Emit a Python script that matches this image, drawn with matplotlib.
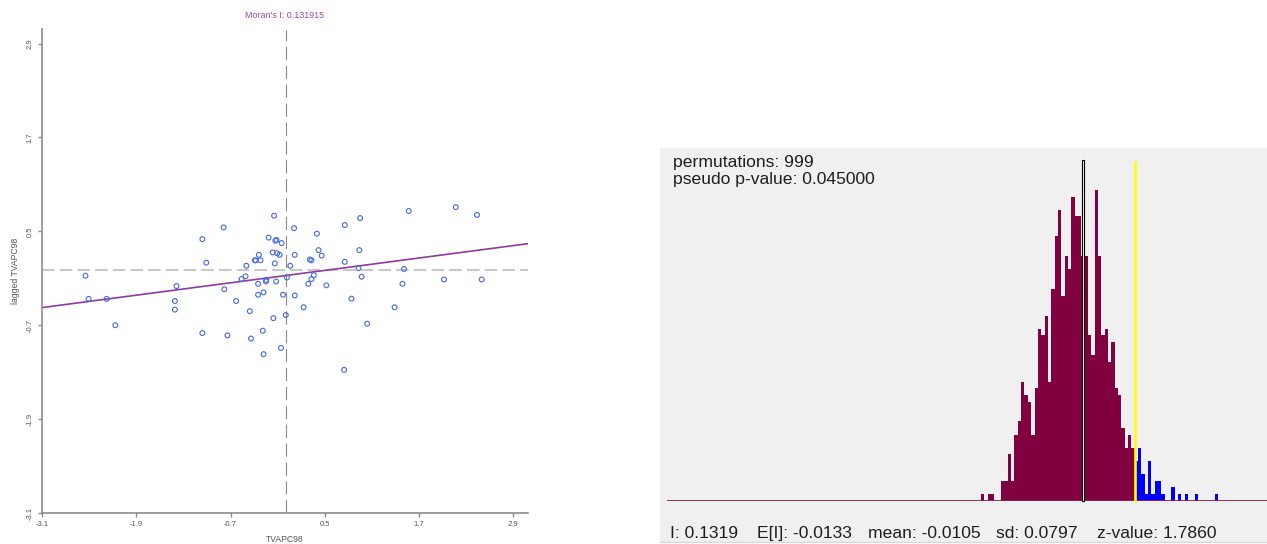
import numpy as np
import matplotlib
matplotlib.use("Agg")
import matplotlib.pyplot as plt
from matplotlib.patches import Rectangle
from matplotlib.lines import Line2D

# ---------------- data: Moran scatter plot ----------------
x_vals = [-2.55, -2.51, -2.28, -2.17, -1.39, -1.41, -1.41, -1.06, -1.01, -1.06,
          -0.79, -0.78, -0.74, -0.63, -0.56, -0.51, -0.50, -0.455, -0.44, -0.39,
          -0.38, -0.34, -0.32, -0.35, -0.35, -0.28, -0.25, -0.245, -0.29, -0.28,
          -0.216, -0.146, -0.164, -0.13, -0.115, -0.107, -0.076, -0.05, -0.137, -0.12,
          -0.155, -0.058, -0.032, 0.003, 0.017, 0.06, 0.109, 0.117, 0.117, 0.23,
          0.29, 0.31, 0.33, 0.33, 0.36, 0.40, 0.42, 0.46, 0.52, 0.755,
          0.755, 0.746, 0.84, 0.94, 0.95, 0.93, 0.97, 1.04, 1.39, 1.49,
          1.51, 1.57, 2.02, 2.17, 2.44, 2.50]
y_vals = [-0.067, -0.363, -0.363, -0.70, -0.20, -0.39, -0.50, 0.40, 0.10, -0.80,
          0.55, -0.24, -0.83, -0.39, -0.11, -0.075, 0.06, -0.52, -0.87, 0.13,
          0.13, 0.20, 0.13, -0.17, -0.31, -0.28, -0.14, -0.12, -0.77, -1.07,
          0.42, 0.70, 0.23, 0.38, 0.39, 0.22, 0.20, 0.35, 0.09, -0.14,
          -0.61, -0.99, -0.31, -0.57, -0.09, 0.06, 0.54, 0.20, -0.32, -0.47,
          -0.17, 0.14, 0.13, -0.11, -0.06, 0.47, 0.26, 0.19, -0.19, 0.58,
          0.11, -1.27, -0.36, 0.26, 0.67, 0.03, -0.08, -0.68, -0.47, -0.17,
          0.02, 0.76, -0.115, 0.81, 0.71, -0.115]
moran_i = 0.131915
fit_intercept = -0.065
tick_values = [-3.1, -1.9, -0.7, 0.5, 1.7, 2.9]
tick_labels = ["-3.1", "-1.9", "-0.7", "0.5", "1.7", "2.9"]
x_label = "TVAPC98"
y_label = "lagged TVAPC98"

# ---------------- data: permutation histogram ----------------
perm_counts = [1, 0, 1, 1, 0, 0, 3, 3, 7, 3,
               10, 12, 18, 16, 15, 10, 17, 26, 25, 28,
               18, 32, 40, 44, 31, 37, 35, 46, 43, 43,
               37, 37, 25, 22, 47, 37, 25, 26, 21, 24,
               17, 16, 11, 8, 10, 8, 6, 8, 4, 1,
               6, 1, 3, 3, 1, 0, 0, 2, 0, 1,
               0, 1, 0, 0, 1, 0, 0, 0, 0, 0, 1]
bin_start = -0.2861
bin_width = 0.00904
observed_I = 0.1319
expected_I = -0.0133
perm_mean = -0.0105
perm_sd = 0.0797
z_value = 1.7860
n_perm = 999
p_value = 0.045

# ---------------- figure ----------------
W, H = 1267, 544
fig = plt.figure(figsize=(W / 100, H / 100), dpi=100)
fig.patch.set_facecolor("white")
FONT = ["Liberation Sans", "DejaVu Sans"]


def fx(px):
    return px / W


def fy(py):
    return 1 - py / H


# gray panel behind the histogram
fig.patches.append(Rectangle((fx(660), fy(541.7)), 607 / W, 393.4 / H,
                             transform=fig.transFigure, facecolor="#f0f0f0",
                             edgecolor="none", zorder=-5))
fig.lines.append(Line2D([fx(660), fx(1267)], [fy(541.7), fy(541.7)],
                        transform=fig.transFigure, color="#d8d8d8", lw=1,
                        zorder=-4))

# ---------------- scatter ----------------
ax = fig.add_axes([fx(42.3), fy(513), 485.7 / W, 483.5 / H])
ax.set_xlim(-3.1, 3.09)
ax.set_ylim(-3.1, 3.08)
for s in ("top", "right"):
    ax.spines[s].set_visible(False)
for s in ("left", "bottom"):
    ax.spines[s].set_color("#8c8c8c")
    ax.spines[s].set_linewidth(1.2)
ax.set_xticks(tick_values)
ax.set_xticklabels(tick_labels, fontsize=5.5, color="#555555", family=FONT)
ax.set_yticks(tick_values)
ax.set_yticklabels(tick_labels, fontsize=5.5, color="#555555", family=FONT,
                   rotation=90, va="center")
ax.tick_params(direction="out", length=3, width=1, color="#8c8c8c", pad=3)

ax.axhline(0, color="#c8c8c8", lw=1.5, ls=(0, (6, 2.5)), zorder=1)
ax.axvline(0, color="#8a8a8a", lw=0.8, ls=(0, (12, 5)), zorder=1)
xs = np.array(ax.get_xlim())
ax.plot(xs, fit_intercept + moran_i * xs, color="#8e3aa0", lw=1.2, zorder=2)
ax.scatter(x_vals, y_vals, s=12, facecolors="none", edgecolors="#4468e0",
           linewidths=0.8, zorder=3)

fig.text(fx(285), fy(15), f"Moran's I: {moran_i:.6f}", fontsize=6.4,
         color="#9a46a8", ha="center", va="center", family=FONT)
fig.text(fx(285), fy(539), x_label, fontsize=6.2, color="#555555",
         ha="center", va="center", family=FONT)
fig.text(fx(16), fy(271), y_label, fontsize=6.2, color="#555555",
         ha="center", va="center", rotation=90, family=FONT)

# ---------------- histogram ----------------
hax = fig.add_axes([fx(667), fy(500.7), 600 / W, 53 * 6.61 / H])
hax.set_xlim(-1.138, 0.489)
hax.set_ylim(0, 53)
hax.axis("off")
hax.patch.set_alpha(0)

edges = bin_start + bin_width * np.arange(len(perm_counts))
centers = edges + bin_width / 2
colors = ["#0000ff" if c > observed_I else "#800040" for c in centers]
hax.bar(edges, perm_counts, width=bin_width, align="edge", color=colors,
        linewidth=0, zorder=2)
hax.axhline(0, color="#8c2250", lw=1.3, zorder=3)
hax.bar(perm_mean, 51.5, width=0.007, color="white", edgecolor="black",
        linewidth=0.8, zorder=4, clip_on=False)
hax.plot([observed_I, observed_I], [0, 51.2], color="#ffff00", lw=1.9,
         zorder=5, clip_on=False)

tcol = "#1e1e1e"
fs = 12.6
fig.text(fx(672.7), fy(167), f"permutations: {n_perm}", fontsize=fs,
         color=tcol, va="baseline", family=FONT)
fig.text(fx(672.7), fy(183.5), f"pseudo p-value: {p_value:.6f}", fontsize=fs,
         color=tcol, va="baseline", family=FONT)
stats = [(670, f"I: {observed_I:.4f}"),
         (756.7, f"E[I]: {expected_I:.4f}"),
         (868.3, f"mean: {perm_mean:.4f}"),
         (996, f"sd: {perm_sd:.4f}"),
         (1097.3, f"z-value: {z_value:.4f}")]
for px, txt in stats:
    fig.text(fx(px), fy(538), txt, fontsize=fs, color=tcol, va="baseline",
             family=FONT)

fig.savefig("out.png", dpi=100)
